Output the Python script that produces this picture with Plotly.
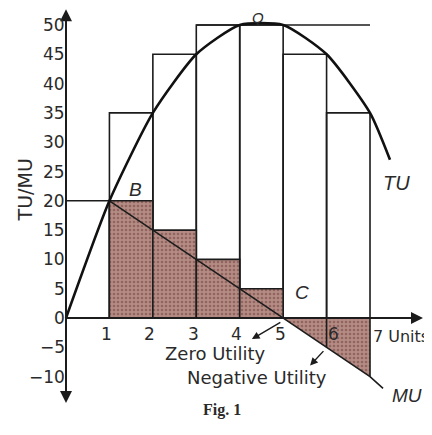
import plotly.graph_objects as go

# ---- data ----
units = [0, 1, 2, 3, 4, 5, 6, 7]
tu = [0, 20, 35, 45, 50, 50, 45, 35]
mu_units = [1, 2, 3, 4, 5, 6, 7]
mu = [20, 15, 10, 5, 0, -5, -10]
y_ticks = [50, 45, 40, 35, 30, 25, 20, 15, 10, 5, 0, -5, -10]
x_ticks = [1, 2, 3, 4, 5, 6]
tu_end = (7.46, 27)      # curve tail beyond unit 7
mu_end = (7.3, -12)      # line tail beyond unit 7

INK = "#1c1c1c"
SHADE = "#a0706a"
FONT = "DejaVu Sans"
PAT = dict(shape=".", fgcolor="#6e3b38", bgcolor="#b48c84", size=4, solidity=0.35)

fig = go.Figure()

# TU bars: bar for unit n spans [n-1, n] with height TU(n)
fig.add_trace(go.Bar(
    x=[u - 0.5 for u in units[1:]], y=tu[1:], width=1,
    marker=dict(color="rgba(255,255,255,0)", line=dict(color=INK, width=1.6)),
    hoverinfo="skip"))

# MU positive bars: bar for unit n spans [n, n+1] with height MU(n)
pos_x = [u + 0.5 for u, m in zip(mu_units, mu) if m > 0]
pos_y = [m for m in mu if m > 0]
fig.add_trace(go.Bar(
    x=pos_x, y=pos_y, width=1,
    marker=dict(color=SHADE, line=dict(color=INK, width=1.6), pattern=PAT),
    hoverinfo="skip"))

# negative MU region (area between axis and MU line)
neg_x = [u for u, m in zip(mu_units, mu) if m <= 0]
neg_y = [m for m in mu if m <= 0]
fig.add_trace(go.Scatter(
    x=neg_x, y=neg_y, mode="lines", fill="tozeroy",
    fillcolor=SHADE, fillpattern=PAT, line=dict(color=INK, width=0),
    hoverinfo="skip"))
for u, m in zip(neg_x[1:], neg_y[1:]):
    fig.add_trace(go.Scatter(x=[u, u], y=[0, m], mode="lines",
                             line=dict(color=INK, width=1.6), hoverinfo="skip"))

# Q line at max TU
fig.add_trace(go.Scatter(x=[3, 7], y=[max(tu), max(tu)], mode="lines",
                         line=dict(color=INK, width=1.6), hoverinfo="skip"))

# MU line
fig.add_trace(go.Scatter(x=mu_units + [mu_end[0]], y=mu + [mu_end[1]],
                         mode="lines", line=dict(color=INK, width=1.6),
                         hoverinfo="skip"))

# TU curve
fig.add_trace(go.Scatter(x=units + [tu_end[0]], y=tu + [tu_end[1]],
                         mode="lines", line=dict(color="#111", width=2.6,
                                                 shape="spline", smoothing=0.6),
                         hoverinfo="skip"))

# axes lines
fig.add_shape(type="line", x0=0, x1=8.0, y0=0, y1=0, line=dict(color=INK, width=2))
fig.add_shape(type="line", x0=0, x1=0, y0=-13.5, y1=51.5, line=dict(color=INK, width=2))

def arrow(x, y, ax, ay, width=1.6, head=2, size=1.2):
    fig.add_annotation(x=x, y=y, ax=ax, ay=ay, xref="x", yref="y",
                       axref="x", ayref="y", showarrow=True, text="",
                       arrowhead=head, arrowsize=size, arrowwidth=width,
                       arrowcolor=INK)

arrow(0, 52.7, 0, 49, width=2)
arrow(0, -14.5, 0, -11, width=2)
arrow(8.22, 0, 7.8, 0, width=2)
arrow(4.28, -3.6, 4.97, -0.6, width=1.4, size=1.1)
arrow(5.62, -8.1, 5.96, -5.4, width=1.4, size=1.1)

def txt(x, y, s, size=17, italic=False, family=FONT, xanchor="center", **kw):
    fig.add_annotation(x=x, y=y, xref="x", yref="y", text=s, showarrow=False,
                       xanchor=xanchor,
                       font=dict(family=family, size=size, color="#2a2a2a",
                                 style="italic" if italic else "normal"), **kw)

for v in y_ticks:
    txt(0.03, v, str(v).replace("-", "\u2212"), size=17, xanchor="right")
for v in x_ticks:
    txt(v, -2.7, str(v), size=17, xshift=7 if v == 6 else -3)
txt(7.02, -3.2, "7 Units", size=16, xanchor="left")

txt(-0.94, 21.8, "TU/MU", size=19, textangle=-90)
txt(1.59, 22.0, "B", size=19, italic=True, family="Liberation Sans")
txt(4.42, 52.9, "Q", size=15, italic=True, family="Liberation Sans",
    yanchor="top", borderpad=0)
txt(5.43, 4.4, "C", size=19, italic=True, family="Liberation Sans")
txt(7.6, 23, "TU", size=20, italic=True, family="Liberation Sans")
txt(7.45, -13.3, "MU", size=19, italic=True, family="Liberation Sans", xanchor="left")
txt(3.43, -6.0, "Zero Utility", size=18)
txt(4.40, -10.2, "Negative Utility", size=18)
txt(3.59, -15.7, "<b>Fig. 1</b>", size=16, family="Liberation Serif")

# page has an 8px body margin; figure fills the rest of the 432x435 window
fig.update_layout(
    width=424, height=427, margin=dict(l=0, r=0, t=0, b=0),
    paper_bgcolor="white", plot_bgcolor="white", showlegend=False,
    barmode="overlay",
    xaxis=dict(range=[(8 - 66) / 43.43, (432 - 66) / 43.43], visible=False, fixedrange=True),
    yaxis=dict(range=[(318 - 435) / 5.86, (318 - 8) / 5.86], visible=False, fixedrange=True),
)

fig.write_html("out.html")
